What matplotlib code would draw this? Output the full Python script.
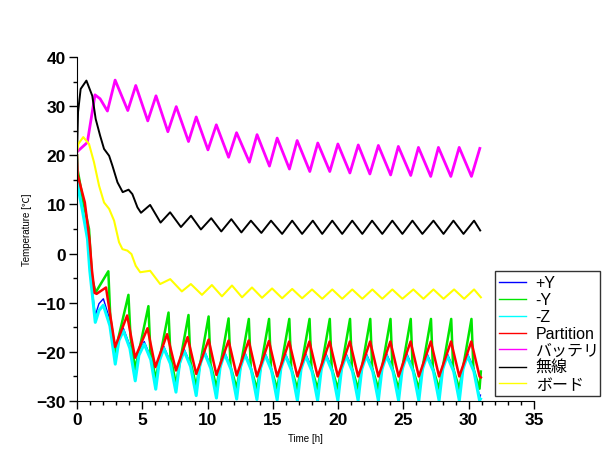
import matplotlib
matplotlib.use("Agg")
import matplotlib.pyplot as plt
from matplotlib.lines import Line2D
from matplotlib.ticker import MultipleLocator

plt.rcParams['font.family'] = ['Liberation Sans', 'Noto Sans CJK JP', 'DejaVu Sans']

# time base shared by +Y and -Z (minimum, rising shoulder, peak, falling shoulder)
t_py = [0, 0.04, 0.4, 0.8, 0.98,
        1.4, 1.68, 2.02, 2.52, 2.93, 3.21, 3.55, 4.05, 4.46, 4.74, 5.15, 5.65,
        6.03, 6.31, 6.65, 7.15, 7.58, 7.86, 8.2, 8.7, 9.13, 9.41, 9.75, 10.25,
        10.68, 10.96, 11.3, 11.8, 12.23, 12.51, 12.85, 13.35, 13.78, 14.06, 14.4, 14.9,
        15.33, 15.61, 15.95, 16.45, 16.88, 17.16, 17.5, 18.0, 18.43, 18.71, 19.05, 19.55,
        19.98, 20.26, 20.6, 21.1, 21.53, 21.81, 22.15, 22.65, 23.08, 23.36, 23.7, 24.2,
        24.63, 24.91, 25.25, 25.75, 26.18, 26.46, 26.8, 27.3, 27.73, 28.01, 28.35, 28.85,
        29.28, 29.56, 29.9, 30.4, 30.83, 30.9]

# +Y
T_py = [20, 15, 9.5, 3.2, -3.3,
        -12.6, -10.2, -9.2, -13.5, -21.5, -17.1, -15.2, -18.7, -25.2, -20.1, -17.9, -21.1,
        -27.0, -21.3, -18.9, -22.0, -27.7, -21.9, -19.4, -22.5, -28.3, -22.3, -19.7, -22.9,
        -28.7, -22.6, -20.0, -23.2, -29.0, -22.8, -20.1, -23.3, -29.1, -22.9, -20.2, -23.4,
        -29.2, -23.0, -20.3, -23.4, -29.2, -23.0, -20.3, -23.4, -29.2, -23.0, -20.3, -23.4,
        -29.2, -23.0, -20.3, -23.4, -29.2, -23.0, -20.3, -23.4, -29.2, -23.0, -20.3, -23.4,
        -29.2, -23.0, -20.3, -23.4, -29.2, -23.0, -20.3, -23.4, -29.2, -23.0, -20.3, -23.4,
        -29.2, -23.0, -20.3, -23.4, -29.2, -28.8]

# -Y
t_my = [0, 0.05, 0.49, 0.92, 1.15, 1.43, 2.4, 2.55, 2.92, 3.94, 4.1, 4.46, 5.47, 5.62, 6.03,
        7.01, 7.16, 7.58, 8.54, 8.69, 9.13, 10.08, 10.23, 10.68, 11.61, 11.76, 12.23, 13.16,
        13.31, 13.78, 14.71, 14.86, 15.33, 16.26, 16.41, 16.88, 17.81, 17.96, 18.43, 19.36,
        19.51, 19.98, 20.91, 21.06, 21.53, 22.46, 22.61, 23.08, 24.01, 24.16, 24.63, 25.56,
        25.71, 26.18, 27.11, 27.26, 27.73, 28.66, 28.81, 29.28, 30.21, 30.36, 30.83, 30.93]
T_my = [20, 17, 10.4, 5.0, -5.0, -7.9, -3.6, -13, -20, -8.4, -17, -23.5, -10.7, -20, -25.5,
        -12.0, -21, -26.5, -12.5, -22, -27, -12.8, -22.5, -27.2, -13.2, -23, -27.4, -13.3,
        -23.3, -27.5, -13.3, -23.4, -27.5, -13.3, -23.4, -27.5, -13.3, -23.4, -27.5, -13.3,
        -23.4, -27.5, -13.3, -23.4, -27.5, -13.3, -23.4, -27.5, -13.3, -23.4, -27.5, -13.3,
        -23.4, -27.5, -13.3, -23.4, -27.5, -13.3, -23.4, -27.5, -13.3, -23.4, -27.5, -24.0]

# -Z
t_mz = t_py
T_mz = [19, 14, 9, 3, -3.5,
        -14.0, -11.6, -10.5, -14.7, -22.5, -17.7, -15.7, -19.3, -25.9, -20.7, -18.4, -21.6,
        -27.6, -21.8, -19.3, -22.4, -28.2, -22.3, -19.8, -23.0, -28.9, -22.7, -20.1, -23.4,
        -29.4, -23.1, -20.4, -23.6, -29.6, -23.2, -20.5, -23.7, -29.7, -23.3, -20.6, -23.8,
        -29.8, -23.4, -20.7, -23.9, -29.9, -23.5, -20.8, -24.0, -29.9, -23.5, -20.8, -24.0,
        -29.9, -23.5, -20.8, -24.0, -29.9, -23.5, -20.8, -24.0, -29.9, -23.5, -20.8, -24.0,
        -29.9, -23.5, -20.8, -24.0, -29.9, -23.5, -20.8, -24.0, -29.9, -23.5, -20.8, -24.0,
        -29.9, -23.5, -20.8, -24.0, -29.9, -29.6]

# Partition
t_pt = [0, 0.05, 0.6, 0.95, 1.15, 1.35, 1.5, 2.22, 2.92, 3.84, 4.45, 5.4, 6.0, 6.9, 7.58,
        8.47, 9.13, 10.08, 10.68, 11.61, 12.23, 13.15, 13.78, 14.7, 15.33, 16.25, 16.88, 17.8,
        18.43, 19.35, 19.98, 20.9, 21.53, 22.45, 23.08, 24.0, 24.63, 25.55, 26.18, 27.1, 27.73,
        28.65, 29.28, 30.2, 30.83, 30.93]
T_pt = [20, 16, 10.4, 3.0, -3.5, -8.0, -8.2, -6.9, -19.0, -12.6, -21.2, -15.2, -23.1, -16.4,
        -23.8, -17.0, -24.5, -17.5, -24.7, -17.7, -24.8, -17.7, -25.0, -17.8, -25.0, -17.9,
        -25.0, -17.9, -25.0, -17.9, -25.0, -17.9, -25.0, -17.9, -25.0, -17.9, -25.0, -17.9,
        -25.0, -17.9, -25.0, -17.9, -25.0, -17.9, -25.0, -25.2]

# バッテリ
t_bat = [0, 0.79, 1.38, 1.77, 2.33, 2.92, 3.89, 4.5, 5.42, 6.05, 6.96, 7.6, 8.54, 9.13, 10.03,
         10.67, 11.61, 12.22, 13.2, 13.79, 14.74, 15.33, 16.27, 16.86, 17.83, 18.44, 19.36,
         19.98, 20.9, 21.54, 22.43, 23.08, 24.02, 24.61, 25.56, 26.15, 27.09, 27.68, 28.63,
         29.27, 30.21, 30.85]
T_bat = [20.7, 22.6, 32.3, 31.5, 29.0, 35.3, 29.1, 34.2, 27.0, 32.1, 24.8, 29.9, 22.8, 27.8,
         21.1, 26.2, 19.6, 24.6, 18.6, 24.2, 17.8, 23.5, 17.2, 23.0, 16.7, 22.5, 16.7, 22.3,
         16.4, 22.1, 16.2, 22.0, 16.0, 21.8, 15.9, 21.6, 15.7, 21.6, 15.7, 21.6, 15.7, 21.4]

# 無線
t_rf = [0, 0.08, 0.28, 0.72, 1.17, 1.43, 1.77, 2.07, 2.46, 2.71, 3.1, 3.5, 3.95, 4.24, 4.63,
        4.9, 5.6, 6.4, 7.13, 7.96, 8.73, 9.49, 10.28, 11.05, 11.82, 12.59, 13.32, 14.12,
        14.86, 15.71, 16.48, 17.24, 18.06, 18.78, 19.55, 20.31, 21.08, 21.85, 22.6, 23.38,
        24.15, 24.92, 25.69, 26.45, 27.3, 28.07, 28.83, 29.6, 30.41, 30.88]
T_rf = [19.9, 28.8, 33.5, 35.2, 32.1, 27.4, 24.0, 21.3, 19.9, 17.9, 14.5, 12.5, 13.0, 12.1,
        9.4, 8.3, 9.9, 6.3, 8.4, 5.4, 7.7, 4.9, 7.2, 4.5, 7.0, 4.3, 6.7, 4.2, 6.7, 4.0, 6.7,
        4.0, 6.7, 4.0, 6.7, 4.0, 6.7, 4.0, 6.7, 4.0, 6.7, 4.0, 6.7, 4.0, 6.7, 4.0, 6.7, 4.0,
        6.7, 4.7]

# ボード
t_brd = [0, 0.1, 0.48, 0.92, 1.3, 1.69, 2.07, 2.46, 2.84, 3.22, 3.48, 3.86, 4.17, 4.5, 4.84,
         5.6, 6.37, 7.14, 8.03, 8.72, 9.57, 10.33, 11.1, 11.87, 12.64, 13.4, 14.17, 14.94,
         15.71, 16.48, 17.24, 18.0, 18.78, 19.55, 20.31, 21.08, 21.85, 22.62, 23.38, 24.15,
         24.92, 25.76, 26.53, 27.3, 28.07, 28.88, 29.65, 30.41, 30.93]
T_brd = [20.6, 22.3, 23.7, 22.3, 18.6, 13.8, 10.4, 9.1, 6.7, 2.3, 0.9, 0.6, -0.1, -2.5, -3.8,
         -3.5, -6.2, -5.2, -7.7, -6.2, -8.4, -6.4, -8.7, -6.5, -8.9, -6.9, -9.0, -7.1, -9.1,
         -7.2, -9.1, -7.3, -9.2, -7.3, -9.2, -7.3, -9.2, -7.3, -9.2, -7.3, -9.2, -7.3, -9.2,
         -7.3, -9.2, -7.3, -9.2, -7.3, -8.9]

labels = ['+Y', '-Y', '-Z', 'Partition', 'バッテリ', '無線', 'ボード']
colors = ['#0000ff', '#00e600', '#00ffff', '#ff0000', '#ff00ff', '#000000', '#ffff00']

fig = plt.figure(figsize=(6.1, 4.6), dpi=100)
ax = fig.add_axes([77 / 610, 1 - 402 / 460, (534 - 77) / 610, (402 - 58) / 460])

series = [(t_py, T_py, 1.0), (t_my, T_my, 1.8), (t_mz, T_mz, 2.2), (t_pt, T_pt, 1.8),
          (t_bat, T_bat, 2.0), (t_rf, T_rf, 1.4), (t_brd, T_brd, 1.5)]
for (t, T, lw), c in zip(series, colors):
    ax.plot(t, T, color=c, lw=lw)

ax.set_xlim(0, 35)
ax.set_ylim(-30, 40)
ax.xaxis.set_major_locator(MultipleLocator(5))
ax.xaxis.set_minor_locator(MultipleLocator(1))
ax.yaxis.set_major_locator(MultipleLocator(10))
ax.yaxis.set_minor_locator(MultipleLocator(5))
ax.spines['top'].set_visible(False)
ax.spines['right'].set_visible(False)
ax.tick_params(which='major', length=6, width=1, labelsize=12.5, pad=2)
ax.tick_params(which='minor', length=3, width=1)
for lab in ax.get_xticklabels() + ax.get_yticklabels():
    lab.set_fontweight('bold')

ax.set_xlabel('Time [h]', fontsize=7, labelpad=4)
ax.set_ylabel('Temperature [℃]', fontsize=7, labelpad=3)

handles = [Line2D([0], [0], color=c, lw=1) for c in colors]
leg = fig.legend(handles, labels, loc='lower left',
                 bbox_to_anchor=(495 / 610, 1 - 397 / 460, 105 / 610, 132 / 460),
                 mode='expand', fontsize=11.5, frameon=True, fancybox=False,
                 handlelength=1.7, handletextpad=0.6, labelspacing=0.12,
                 borderpad=0.25, borderaxespad=0)
leg.get_frame().set_edgecolor('black')
leg.get_frame().set_linewidth(1)

fig.savefig('out.png', dpi=100)
